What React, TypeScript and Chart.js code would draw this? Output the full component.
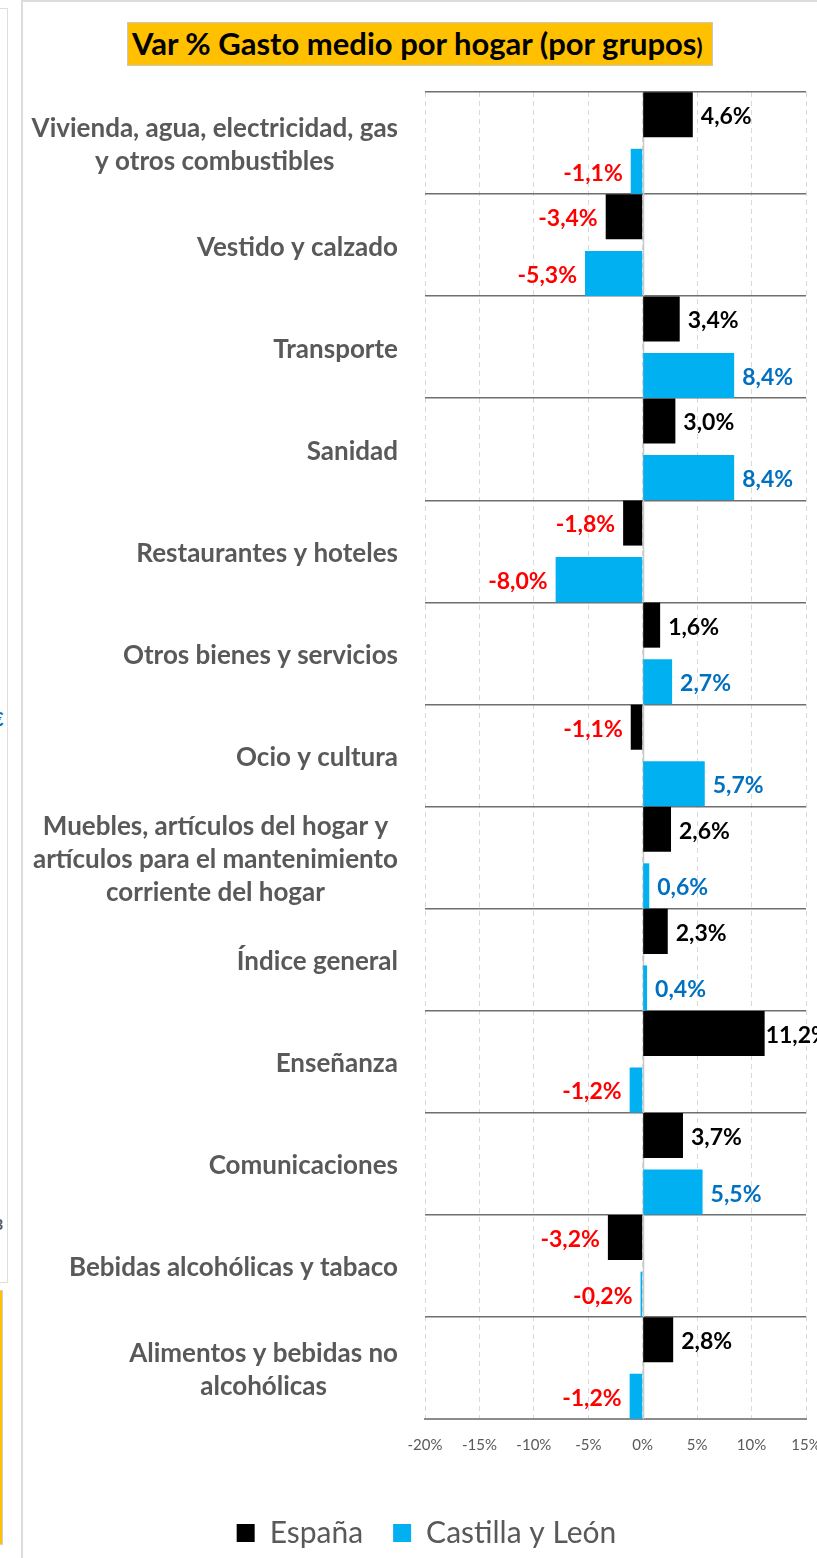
import React, { useEffect, useRef } from 'react';
import { Chart, registerables } from 'chart.js';

Chart.register(...registerables);

const titleText = 'Var % Gasto medio por hogar (por grupos';
const categories: string[][] = [
  ['Vivienda, agua, electricidad, gas', 'y otros combustibles'],
  ['Vestido y calzado'],
  ['Transporte'],
  ['Sanidad'],
  ['Restaurantes y hoteles'],
  ['Otros bienes y servicios'],
  ['Ocio y cultura'],
  ['Muebles, artículos del hogar y', 'artículos para el mantenimiento', 'corriente del hogar'],
  ['Índice general'],
  ['Enseñanza'],
  ['Comunicaciones'],
  ['Bebidas alcohólicas y tabaco'],
  ['Alimentos y bebidas no', 'alcohólicas'],
];
const seriesNames = ['España', 'Castilla y León'];
const espana = [4.6, -3.4, 3.4, 3.0, -1.8, 1.6, -1.1, 2.6, 2.3, 11.2, 3.7, -3.2, 2.8];
const castilla = [-1.1, -5.3, 8.4, 8.4, -8.0, 2.7, 5.7, 0.6, 0.4, -1.2, 5.5, -0.2, -1.2];
const xMin = -20;
const xMax = 15;
const xStep = 5;

const FONT = 'Lato';
const VISIBLE_W = 794;

const yLabelPlugin = {
  id: 'yLabels',
  afterDraw(chart: any) {
    const ctx = chart.ctx;
    const yScale = chart.scales.y;
    const right = chart.chartArea.left - 27;
    ctx.save();
    ctx.font = `bold 26px ${FONT}`;
    ctx.fillStyle = '#595959';
    ctx.textAlign = 'center';
    ctx.textBaseline = 'middle';
    const lh = 33;
    categories.forEach((lines, i) => {
      const y = yScale.getPixelForValue(i) + 2;
      const w = Math.max(...lines.map((l) => ctx.measureText(l).width));
      const cx = right - w / 2;
      lines.forEach((l, j) => {
        ctx.fillText(l, cx, y + (j - (lines.length - 1) / 2) * lh);
      });
    });
    ctx.restore();
  },
};

const zeroLinePlugin = {
  id: 'zeroLine',
  beforeDatasetsDraw(chart: any) {
    const ctx = chart.ctx;
    const x = Math.round(chart.scales.x.getPixelForValue(0)) + 0.5;
    const { top, bottom } = chart.chartArea;
    ctx.save();
    ctx.strokeStyle = '#c8c8c8';
    ctx.lineWidth = 1.5;
    ctx.beginPath();
    ctx.moveTo(x, top);
    ctx.lineTo(x, bottom);
    ctx.stroke();
    ctx.restore();
  },
};

const dataLabelPlugin = {
  id: 'dataLabels',
  afterDatasetsDraw(chart: any) {
    const ctx = chart.ctx;
    ctx.save();
    ctx.font = `bold 23px ${FONT}`;
    ctx.textBaseline = 'middle';
    chart.data.datasets.forEach((ds: any, di: number) => {
      const meta = chart.getDatasetMeta(di);
      meta.data.forEach((el: any, i: number) => {
        const v = ds.data[i] as number;
        const txt = v.toFixed(1).replace('.', ',') + '%';
        const w = ctx.measureText(txt).width;
        const y = el.y + 2;
        if (v < 0) {
          ctx.fillStyle = '#FF0000';
          ctx.textAlign = 'right';
          ctx.fillText(txt, el.x - 8, y);
        } else {
          ctx.fillStyle = di === 0 ? '#000000' : '#0070C0';
          ctx.textAlign = 'left';
          let x = el.x + 8;
          if (x + w > VISIBLE_W) x = el.x + 1;
          ctx.fillText(txt, x, y);
        }
      });
    });
    ctx.restore();
  },
};

export default function App() {
  const ref = useRef<HTMLCanvasElement | null>(null);

  useEffect(() => {
    document.body.style.margin = '0';
    const canvas = ref.current;
    if (!canvas) return;
    Chart.defaults.font.family = FONT;
    const chart = new Chart(canvas, {
      type: 'bar',
      data: {
        labels: categories.map((c) => c.join(' ')),
        datasets: [
          {
            label: seriesNames[0],
            data: espana,
            backgroundColor: '#000000',
            borderWidth: 0,
            categoryPercentage: 1.108,
            barPercentage: 0.796,
          },
          {
            label: seriesNames[1],
            data: castilla,
            backgroundColor: '#00B0F0',
            borderWidth: 0,
            categoryPercentage: 1.108,
            barPercentage: 0.796,
          },
        ],
      },
      options: {
        indexAxis: 'y',
        responsive: false,
        animation: false,
        devicePixelRatio: 1,
        layout: { padding: { top: 91, left: 0, right: 23, bottom: 83 } },
        plugins: {
          legend: {
            position: 'bottom',
            labels: {
              boxWidth: 18,
              boxHeight: 18,
              padding: 30,
              color: '#595959',
              font: { family: FONT, size: 30 },
            },
          },
          tooltip: { enabled: false },
          title: { display: false },
        },
        scales: {
          x: {
            type: 'linear',
            min: xMin,
            max: xMax,
            afterFit: (s: any) => {
              s.height = 69;
            },
            ticks: {
              stepSize: xStep,
              padding: 17,
              color: '#595959',
              font: { family: FONT, size: 15 },
              callback: (v: any) => `${v}%`,
            },
            grid: {
              color: '#d9d9d9',
              lineWidth: 1,
              drawTicks: false,
            },
            border: { display: true, color: '#8c8c8c', width: 2, dash: [5, 4] },
          },
          y: {
            type: 'category',
            offset: true,
            afterFit: (s: any) => {
              s.width = 402;
            },
            ticks: { display: false },
            grid: {
              offset: true,
              color: '#6f6f6f',
              lineWidth: 1.5,
              drawTicks: false,
            },
            border: { display: false },
          },
          yR: {
            type: 'category',
            position: 'right',
            afterFit: (s: any) => {
              s.width = 24;
            },
            ticks: { display: false },
            grid: { display: false, drawTicks: false },
            border: { display: false },
          },
        },
      } as any,
      plugins: [zeroLinePlugin, dataLabelPlugin, yLabelPlugin],
    });
    return () => chart.destroy();
  }, []);

  return (
    <div style={{ position: 'absolute', left: 0, top: 0, width: 817, height: 1558, overflow: 'hidden', background: '#fff' }}>
      {/* remnants of neighbouring panel */}
      <div style={{ position: 'absolute', left: -4, top: 8, width: 12, height: 1275, border: '1.5px solid #dedede', boxSizing: 'border-box' }} />
      <div style={{ position: 'absolute', left: -7, top: 708, fontFamily: FONT, fontWeight: 'bold', fontSize: 18, color: '#0070C0' }}>€</div>
      <div style={{ position: 'absolute', left: -6, top: 1214, fontFamily: FONT, fontWeight: 'bold', fontSize: 16, color: '#595959' }}>3</div>
      <div style={{ position: 'absolute', left: -4, top: 1290, width: 7, height: 255, background: '#FFC000', border: '1px solid #d0d0d0', boxSizing: 'border-box' }} />
      <div style={{ position: 'absolute', left: 21, top: 0, width: 2, height: 1558, background: '#dcdcdc' }} />
      <div style={{ position: 'absolute', left: 21, top: 0, width: 796, height: 2, background: '#dcdcdc' }} />
      <div style={{ position: 'absolute', left: 23, top: 1, width: 794, height: 1557, overflow: 'hidden' }}>
        <canvas ref={ref} width={830} height={1640} style={{ width: 830, height: 1640, display: 'block' }} />
      </div>
      <div
        style={{
          position: 'absolute',
          left: 127,
          top: 22,
          width: 586,
          height: 44,
          background: '#FFC000',
          border: '1px solid #c8c8c8',
          boxSizing: 'border-box',
          fontFamily: FONT,
          fontWeight: 'bold',
          fontSize: 31,
          lineHeight: '40px',
          paddingLeft: 4,
          color: '#000',
          whiteSpace: 'nowrap',
          overflow: 'hidden',
        }}
      >
        {titleText}
        <span style={{ fontSize: 22 }}>)</span>
      </div>
    </div>
  );
}
